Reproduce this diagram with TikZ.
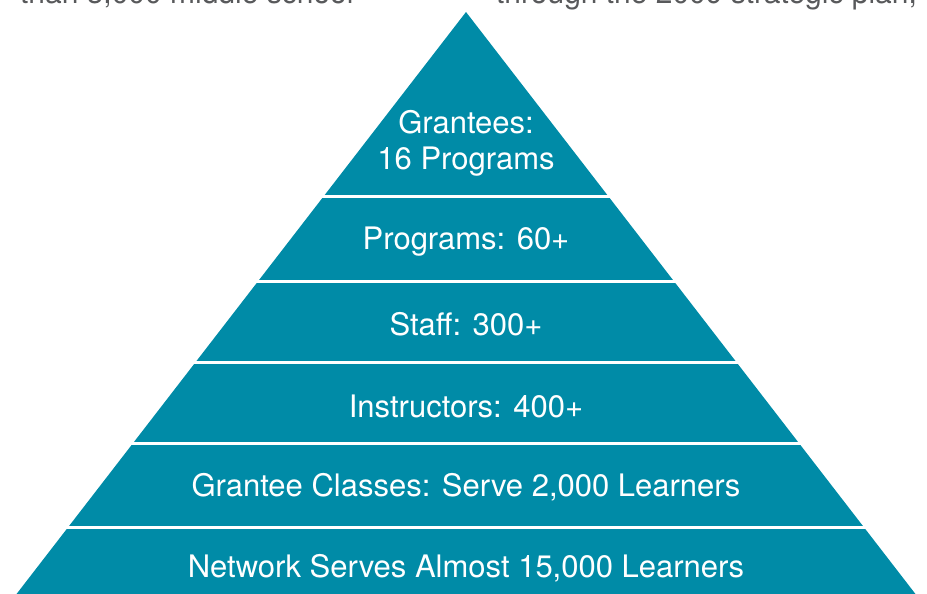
\documentclass[tikz,border=0pt]{standalone}
\usepackage{fontspec}
\setmainfont{TeX Gyre Heros}
\definecolor{teal}{RGB}{0,139,167}
\definecolor{textgray}{RGB}{88,89,91}
\tikzset{
  layer/.style={text=white, font=\fontsize{31}{36}\selectfont, align=center, inner sep=0pt},
  toptext/.style={text=textgray, font=\fontsize{30}{36}\selectfont, inner sep=0pt, anchor=base west}
}
\begin{document}
\begin{tikzpicture}[x=1pt,y=-1pt]
\useasboundingbox (0,0) rectangle (927,594);
\clip (0,0) rectangle (927,594);
% text above the picture, cut by the page edge
\node[toptext] (lefttext) at (20,4) {than 3,000 middle school};
\node[toptext] (righttext) at (496,4) {through the 2009 strategic plan,};
% pyramid
\fill[teal] (466,12) -- (917,596) -- (15,596) -- cycle;
\draw[white, line width=3pt] (0,196) -- (927,196);
\draw[white, line width=3pt] (0,281) -- (927,281);
\draw[white, line width=3pt] (0,362) -- (927,362);
\draw[white, line width=3pt] (0,443) -- (927,443);
\draw[white, line width=3pt] (0,527) -- (927,527);
% labels
\node[layer] (grantees) at (466,143) {Grantees:\\16 Programs};
\node[layer] (programs) at (466,242) {Programs: 60+};
\node[layer] (staff) at (466,324) {Staff: 300+};
\node[layer] (instructors) at (466,406) {Instructors: 400+};
\node[layer] (classes) at (466,487) {Grantee Classes: Serve 2,000 Learners};
\node[layer] (network) at (466,568) {Network Serves Almost 15,000 Learners};
\end{tikzpicture}
\end{document}
